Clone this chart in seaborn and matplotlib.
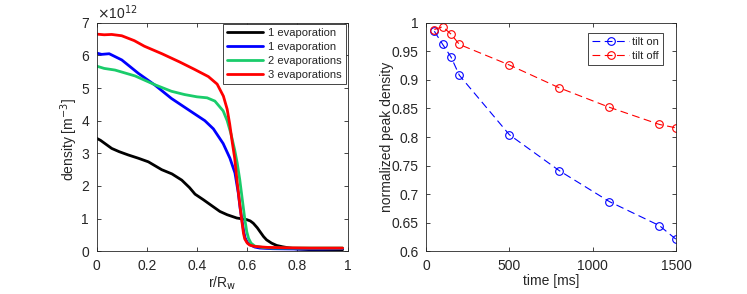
import numpy as np
import pandas as pd
import matplotlib
matplotlib.use("Agg")
import matplotlib.pyplot as plt
import seaborn as sns

# left panel: radial density profiles (values in 1e12 m^-3)
r_black = [0.0, 0.015, 0.033, 0.06, 0.09, 0.126, 0.166, 0.206, 0.259, 0.3, 0.339, 0.37,
           0.392, 0.425, 0.458, 0.491, 0.52, 0.558, 0.598, 0.612, 0.624, 0.64, 0.651,
           0.665, 0.677, 0.697, 0.717, 0.74, 0.77, 0.8, 0.85, 0.9, 0.98]
n_black = [3.46, 3.4, 3.3, 3.15, 3.05, 2.95, 2.85, 2.74, 2.5, 2.37, 2.18, 1.95,
           1.75, 1.58, 1.4, 1.22, 1.12, 1.02, 0.97, 0.93, 0.86, 0.72, 0.6,
           0.45, 0.35, 0.25, 0.18, 0.14, 0.1, 0.07, 0.05, 0.04, 0.05]

r_blue = [0.0, 0.02, 0.05, 0.1, 0.166, 0.232, 0.298, 0.378, 0.431, 0.465, 0.504, 0.531,
          0.551, 0.564, 0.572, 0.578, 0.585, 0.591, 0.6, 0.611, 0.63, 0.65, 0.7, 0.8,
          0.9, 0.98]
n_blue = [6.07, 6.03, 6.05, 5.86, 5.45, 5.09, 4.68, 4.27, 4.0, 3.75, 3.3, 2.85,
          2.4, 1.8, 1.3, 1.0, 0.65, 0.42, 0.28, 0.2, 0.13, 0.1, 0.08, 0.07,
          0.07, 0.08]

r_green = [0.0, 0.03, 0.073, 0.153, 0.232, 0.298, 0.35, 0.4, 0.44, 0.471, 0.504, 0.52,
           0.535, 0.55, 0.56, 0.57, 0.58, 0.59, 0.598, 0.605, 0.615, 0.63, 0.66, 0.7,
           0.8, 0.98]
n_green = [5.67, 5.6, 5.55, 5.37, 5.1, 4.9, 4.8, 4.73, 4.7, 4.6, 4.3, 4.0,
           3.6, 3.1, 2.7, 2.2, 1.6, 1.0, 0.6, 0.4, 0.25, 0.16, 0.12, 0.1,
           0.1, 0.1]

r_red = [0.0, 0.03, 0.06, 0.1, 0.15, 0.19, 0.26, 0.33, 0.39, 0.445, 0.48, 0.505,
         0.52, 0.53, 0.54, 0.55, 0.56, 0.57, 0.578, 0.585, 0.59, 0.6, 0.61, 0.63,
         0.68, 0.75, 0.85, 0.98]
n_red = [6.65, 6.63, 6.64, 6.6, 6.45, 6.28, 6.05, 5.8, 5.57, 5.35, 5.12, 4.75,
         4.35, 3.9, 3.35, 2.85, 2.1, 1.45, 0.95, 0.55, 0.38, 0.25, 0.19, 0.15,
         0.12, 0.11, 0.1, 0.1]

profile_labels = ["1 evaporation", "1 evaporation", "2 evaporations", "3 evaporations"]

# right panel: normalized peak density vs time
time_ms = [50, 100, 150, 200, 500, 800, 1100, 1400, 1500]
tilt_on = [0.985, 0.962, 0.940, 0.908, 0.804, 0.741, 0.687, 0.645, 0.621]
tilt_off = [0.988, 0.993, 0.980, 0.962, 0.926, 0.886, 0.852, 0.822, 0.816]

sns.set_style("ticks")
plt.rcParams['font.family'] = ['Liberation Sans', 'DejaVu Sans']
plt.rcParams['font.size'] = 10
axis_grey = (0.15, 0.15, 0.15)
plt.rcParams['axes.edgecolor'] = axis_grey
plt.rcParams['xtick.color'] = axis_grey
plt.rcParams['ytick.color'] = axis_grey
plt.rcParams['text.color'] = axis_grey
plt.rcParams['axes.labelcolor'] = axis_grey

fig = plt.figure(figsize=(7.47, 2.94), dpi=100)
ax1 = fig.add_axes([0.1294, 0.1452, 0.336, 0.7776])
ax2 = fig.add_axes([0.5703, 0.1452, 0.3347, 0.7776])

profiles = [(r_black, n_black), (r_blue, n_blue), (r_green, n_green), (r_red, n_red)]
prof_colors = ["black", (0, 0, 1), (0.1, 0.8, 0.42), (1, 0, 0)]
for (rr, nn), lab, col in zip(profiles, profile_labels, prof_colors):
    df = pd.DataFrame({"r": rr, "n": nn})
    sns.lineplot(data=df, x="r", y="n", ax=ax1, color=col, linewidth=2, label=lab, sort=False)

ax1.set_xlim(0, 1)
ax1.set_ylim(0, 7)
ax1.set_xticks([0, 0.2, 0.4, 0.6, 0.8, 1])
ax1.set_xticklabels(["0", "0.2", "0.4", "0.6", "0.8", "1"])
ax1.set_yticks(range(8))
ax1.set_xlabel(r"r/R$_\mathrm{w}$", labelpad=1)
ax1.set_ylabel(r"density [m$^{-3}$]")
ax1.yaxis.set_label_coords(-0.065, 0.49)
ax1.text(0, 1.005, r"$\times$10$^{12}$", transform=ax1.transAxes, ha="left", va="bottom", fontsize=10)
leg1 = ax1.legend(loc="upper right", frameon=True, fancybox=False, handlelength=3.3,
                  borderaxespad=0.15, labelspacing=0.35, borderpad=0.35, handletextpad=0.45,
                  fontsize=8)
leg1.get_frame().set_edgecolor(axis_grey)
leg1.get_frame().set_linewidth(0.6)
leg1.get_frame().set_alpha(1)

df_on = pd.DataFrame({"t": time_ms, "v": tilt_on})
df_off = pd.DataFrame({"t": time_ms, "v": tilt_off})
sns.lineplot(data=df_on, x="t", y="v", ax=ax2, color=(0, 0, 1), linewidth=0.8,
             marker="o", markersize=5.5, markerfacecolor="none", markeredgecolor=(0, 0, 1),
             markeredgewidth=0.8, label="tilt on")
sns.lineplot(data=df_off, x="t", y="v", ax=ax2, color=(1, 0, 0), linewidth=0.8,
             marker="o", markersize=5.5, markerfacecolor="none", markeredgecolor=(1, 0, 0),
             markeredgewidth=0.8, label="tilt off")
for ln in ax2.get_lines():
    ln.set_linestyle((0, (7, 4)))

ax2.set_xlim(0, 1500)
ax2.set_ylim(0.6, 1)
ax2.set_xticks([0, 500, 1000, 1500])
ax2.set_yticks([0.6, 0.65, 0.7, 0.75, 0.8, 0.85, 0.9, 0.95, 1])
ax2.set_yticklabels(["0.6", "0.65", "0.7", "0.75", "0.8", "0.85", "0.9", "0.95", "1"])
ax2.set_xlabel("time [ms]", labelpad=1)
ax2.set_ylabel("normalized peak density")
ax2.yaxis.set_label_coords(-0.13, 0.5)
leg2 = ax2.legend(loc="upper right", frameon=True, fancybox=False, handlelength=3.3,
                  bbox_to_anchor=(0.948, 0.955), borderaxespad=0, labelspacing=0.35,
                  borderpad=0.35, handletextpad=0.3, fontsize=8)
leg2.get_frame().set_edgecolor(axis_grey)
leg2.get_frame().set_linewidth(0.6)
leg2.get_frame().set_alpha(1)

for ax in (ax1, ax2):
    for sp in ax.spines.values():
        sp.set_visible(True)
        sp.set_linewidth(0.6)
    ax.tick_params(direction="in", top=True, right=True, length=3, width=0.6, pad=5.5)

fig.savefig("out.png", dpi=100)
